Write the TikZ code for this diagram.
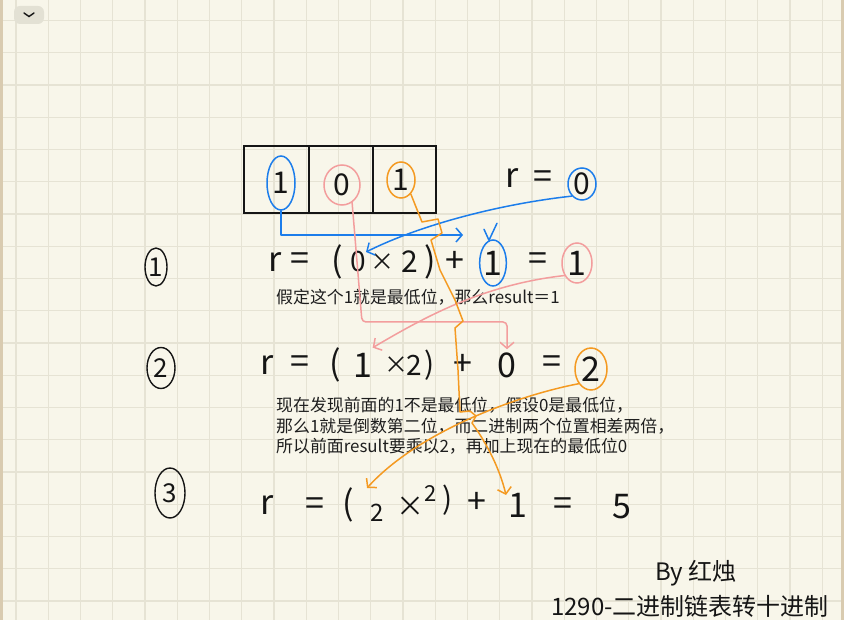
\documentclass[tikz,border=0pt]{standalone}
\usepackage{fontspec}
\setmainfont{Noto Sans CJK SC}
\usetikzlibrary{arrows.meta, shapes.geometric, positioning}
\definecolor{paper}{HTML}{F8F6EA}
\definecolor{gridgrey}{HTML}{E6E3D4}
\definecolor{paperedge}{HTML}{D9CBB0}
\definecolor{tabgrey}{HTML}{E3E1D4}
\definecolor{inkblack}{HTML}{151515}
\definecolor{printink}{HTML}{1E1E1E}
\definecolor{penblue}{HTML}{1C7DEB}
\definecolor{penpink}{HTML}{F39D9D}
\definecolor{penorange}{HTML}{F49A22}
\tikzset{
  pen/.style={line width=1.5pt, line cap=round, line join=round},
  barb/.style={-{Straight Barb[length=6pt, width=14pt]}},
  cell/.style={rectangle, draw=inkblack, line width=1.8pt, minimum height=67pt, inner sep=0pt},
  ring/.style={ellipse, draw, line width=1.5pt, inner sep=0pt, text=inkblack, font=\fontsize{30}{30}\selectfont},
  hw/.style={text=inkblack, inner sep=0pt, font=\fontsize{34}{34}\selectfont},
  note/.style={text=printink, inner sep=0pt, anchor=west, align=left, font=\fontsize{16.9}{20.5}\selectfont},
}

\begin{document}
\begin{tikzpicture}[x=1pt, y=-1pt,
    numring/.style={ellipse, draw=inkblack, line width=1.4pt, inner sep=0pt, text=inkblack, font=\fontsize{26}{26}\selectfont},
    sign/.style={text=inkblack, inner sep=0pt, font=\fontsize{24}{24}\selectfont}]

  % Paper and grid
  \useasboundingbox (0,0) rectangle (844,620);
  \fill[paper] (0,0) rectangle (844,620);
  \foreach \k in {0,...,25} {
    \draw[gridgrey, line width=1.1pt] ({16+32.25*\k},0) -- ++(0,620);
  }
  \foreach \k in {0,...,18} {
    \draw[gridgrey, line width=1.1pt] (0,{20.5+32.25*\k}) -- ++(844,0);
  }
  \fill[paperedge] (0,0) rectangle (3,620);
  \fill[paperedge] (841,0) rectangle (844,620);
  \fill[tabgrey, rounded corners=6pt] (14,6) rectangle (44,24);
  \draw[inkblack, line width=1.4pt, line cap=round] (24,13) -- (29,16.5) -- (34,13);

  % Binary list 1 0 1
  \node[cell, minimum width=65pt] (c1) at (276.5,179.5) {};
  \node[cell, minimum width=64pt] (c2) at (341,179.5) {};
  \node[cell, minimum width=63pt] (c3) at (404.5,179.5) {};
  \node[ring, draw=penblue, minimum width=28pt, minimum height=54pt] (d1) at (281,183) {1};
  \node[ring, draw=penpink, minimum width=36pt, minimum height=40pt] (d2) at (342,185) {0};
  \node[ring, draw=penorange, minimum width=28pt, minimum height=36pt] (d3) at (401,180) {1};

  \node[hw] (zr) at (512,178) {r};
  \node[hw] (ze) at (543,180) {=};
  \node[ring, draw=penblue, minimum width=28pt, minimum height=32pt] (z0) at (582,184) {0};

  % Step numbers
  \node[numring, minimum width=22pt, minimum height=38pt] (n1) at (156,267) {1};
  \node[numring, minimum width=28pt, minimum height=41pt] (n2) at (161,368) {2};
  \node[numring, minimum width=30pt, minimum height=50pt] (n3) at (170,493) {3};

  % Step 1
  \foreach \c/\x/\s [count=\i] in {r/275/34, =/300/34, {(}/337/34, 0/358/28, ×/382/24, 2/410/30, {)}/430/34, +/455/34, =/538/34} {
    \node[hw, font=\fontsize{\s}{\s}\selectfont] (ra\i) at (\x,262) {\c};
  }
  \node[ring, draw=penblue, font=\fontsize{34}{34}\selectfont, minimum width=26pt, minimum height=46pt] (o1) at (493,263) {1};
  \node[ring, draw=penpink, font=\fontsize{34}{34}\selectfont, minimum width=30pt, minimum height=40pt] (o2) at (577,263) {1};
  \node[note] (t1) at (276,297) {假定这个1就是最低位，那么result＝1};

  % Step 2
  \foreach \c/\x/\s [count=\i] in {r/267/34, =/300/34, {(}/335/34, 1/363/34, ×/396/24, 2/414/28, {)}/430/30, +/463/34, 0/507/34, =/552/34} {
    \node[hw, font=\fontsize{\s}{\s}\selectfont] (rb\i) at (\x,365) {\c};
  }
  \node[ring, draw=penorange, font=\fontsize{34}{34}\selectfont, minimum width=32pt, minimum height=42pt] (o3) at (591,369) {2};
  \node[note] (t2) at (276,426) {现在发现前面的1不是最低位，假设0是最低位，\\那么1就是倒数第二位，而二进制两个位置相差两倍，\\所以前面result要乘以2，再加上现在的最低位0};

  % Step 3
  \foreach \c/\x/\y/\s [count=\i] in {r/267/505/34, =/315/507/34, {(}/348/505/34, 2/377/513/24, ×/410/507/28, 2/431/494/22, {)}/448/500/30, +/477/503/34, 1/518/505/34, =/563/507/34, 5/622/507/34} {
    \node[hw, font=\fontsize{\s}{\s}\selectfont] (rc\i) at (\x,\y) {\c};
  }

  % Signature
  \node[sign] (by) at (696,573) {By 红烛};
  \node[sign] (title) at (690,606) {1290-二进制链表转十进制};

  % Pen strokes
  \coordinate (tipB) at (463,235);
  \draw[pen, penblue, barb] (d1.south) |- (tipB);
  \draw[pen, penblue] ([shift={(-9,-10)}]o1.north) -- ([shift={(-4,1)}]o1.north) -- ([shift={(4,-16)}]o1.north);
  \draw[pen, penblue, barb] (z0.230) .. controls (500,204) and (420,225) .. ([shift={(8,-10)}]ra4.center);
  \draw[pen, penpink, barb, rounded corners=4pt] (d2.-60) -- (362,322) -| ([shift={(0,-3)}]rb9.north);
  \draw[pen, penpink, barb] (o2.225) .. controls (480,285) and (420,320) .. ([shift={(0,-5)}]rb4.north east);
  \draw[pen, penorange, barb] (d3.-55) -- (422,222) -- (438,219) -- (442,233) -- (431,240) -- (440,270) -- (455,300) -- (463,321) -- (455,328) -- (458,370) -- (460,412) -- (470,411) -- (476,416) -- (472,423) .. controls (488,445) and (500,470) .. ([shift={(-12,-10)}]rc9.center);
  \draw[pen, penorange, barb] (o3.230) .. controls (520,395) and (420,430) .. ([shift={(-10,-25)}]rc4.center);
\end{tikzpicture}
\end{document}
